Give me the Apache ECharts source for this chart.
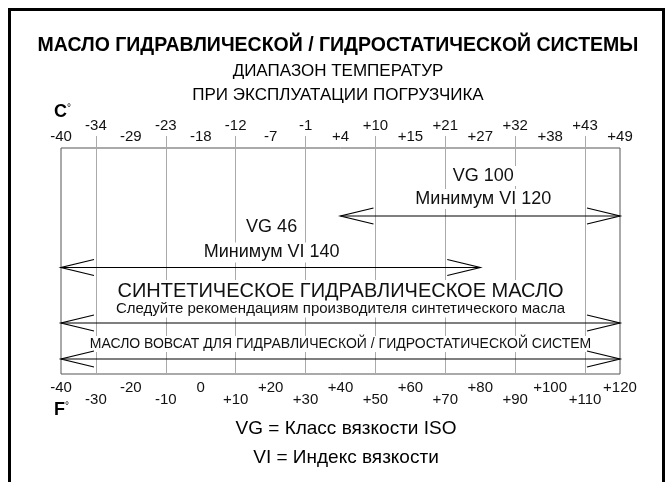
<!DOCTYPE html>
<html>
<head>
<meta charset="utf-8">
<script src="https://cdn.jsdelivr.net/npm/echarts@6/dist/echarts.min.js"></script>
<style>
  html, body { margin: 0; padding: 0; background: #fff; }
  #chart { width: 672px; height: 482px; }
</style>
</head>
<body>
<div id="chart"></div>
<script>
// шкала в °F, подписи °C сверху
const fTicks = [-40, -30, -20, -10, 0, 10, 20, 30, 40, 50, 60, 70, 80, 90, 100, 110, 120]
const fLabels = ['-40', '-30', '-20', '-10', '0', '+10', '+20', '+30', '+40', '+50', '+60', '+70', '+80', '+90', '+100', '+110', '+120']
const cLabels = ['-40', '-34', '-29', '-23', '-18', '-12', '-7', '-1', '+4', '+10', '+15', '+21', '+27', '+32', '+38', '+43', '+49']
const longTicks = [-30, -10, 10, 30, 50, 70, 90, 110]

// диапазоны масел, °F
const vg100Range = [40, 120]
const vg46Range = [-40, 80]
const synthRange = [-40, 120]
const wowcatRange = [-40, 120]

const vg100Text = ['VG 100', 'Минимум VI 120']
const vg46Text = ['VG 46', 'Минимум VI 140']
const synthText = ['СИНТЕТИЧЕСКОЕ ГИДРАВЛИЧЕСКОЕ МАСЛО', 'Следуйте рекомендациям производителя синтетического масла']
const wowcatText = ['МАСЛО ВОВСАТ ДЛЯ ГИДРАВЛИЧЕСКОЙ / ГИДРОСТАТИЧЕСКОЙ СИСТЕМ']

const FONT = '"Liberation Sans", Arial, sans-serif'
const GRID_COLOR = '#aaaaaa'

function tickLabel(labels) {
  return function(value) {
    const i = fTicks.indexOf(value)
    if (i < 0) return ''
    return (i % 2 === 0 ? '{lo|' : '{hi|') + labels[i] + '}'
  }
}

// стрелка с двумя наконечниками и подписями над ней
function arrowSeries(name, range, row, texts) {
  return {
    name: name,
    type: 'custom',
    coordinateSystem: 'cartesian2d',
    xAxisIndex: 0,
    yAxisIndex: 0,
    z: 5,
    renderItem: function(params, api) {
      const s = api.coord([api.value(0), row])
      const e = api.coord([api.value(1), row])
      const y = s[1]
      const head = 33
      const hw = 8
      const mid = (s[0] + e[0]) / 2
      const children = []
      texts.forEach(function(t) {
        children.push({
          type: 'text',
          style: {
            text: t.text,
            x: mid + (t.dx || 0),
            y: y + t.dy,
            align: 'center',
            verticalAlign: 'middle',
            font: t.font,
            fill: '#111',
            backgroundColor: '#fff',
            padding: [1, 3]
          }
        })
      })
      const ls = { stroke: '#000', lineWidth: 1.2, fill: null }
      children.push({ type: 'line', shape: { x1: s[0], y1: y, x2: e[0], y2: y }, style: ls })
      children.push({ type: 'polyline', shape: { points: [[s[0] + head, y - hw], [s[0], y], [s[0] + head, y + hw]] }, style: ls })
      children.push({ type: 'polyline', shape: { points: [[e[0] - head, y - hw], [e[0], y], [e[0] - head, y + hw]] }, style: ls })
      return { type: 'group', children: children }
    },
    encode: { x: [0, 1] },
    data: [range]
  }
}

const chart = echarts.init(document.getElementById('chart'))
const option = {
  animation: false,
  backgroundColor: '#fff',
  grid: {
    show: true,
    left: 61,
    right: 52,
    top: 148,
    bottom: 108,
    borderColor: '#555',
    borderWidth: 1,
    backgroundColor: 'transparent'
  },
  xAxis: [
    {
      type: 'value',
      position: 'bottom',
      min: -40,
      max: 120,
      interval: 10,
      axisLine: { show: false },
      axisTick: {
        show: true,
        customValues: longTicks,
        length: 13,
        lineStyle: { color: GRID_COLOR }
      },
      axisLabel: {
        margin: 6,
        formatter: tickLabel(fLabels),
        rich: {
          lo: { fontFamily: FONT, fontSize: 15, color: '#111', lineHeight: 15 },
          hi: { fontFamily: FONT, fontSize: 15, color: '#111', lineHeight: 15, padding: [25, 0, 0, 0] }
        }
      },
      splitLine: { show: true, lineStyle: { color: GRID_COLOR, width: 1 } }
    },
    {
      type: 'value',
      position: 'top',
      min: -40,
      max: 120,
      interval: 10,
      axisLine: { show: false },
      axisTick: {
        show: true,
        customValues: longTicks,
        length: 12,
        lineStyle: { color: GRID_COLOR }
      },
      axisLabel: {
        margin: 4,
        formatter: tickLabel(cLabels),
        rich: {
          lo: { fontFamily: FONT, fontSize: 15, color: '#111', lineHeight: 15 },
          hi: { fontFamily: FONT, fontSize: 15, color: '#111', lineHeight: 15, padding: [0, 0, 21, 0] }
        }
      },
      splitLine: { show: false }
    }
  ],
  yAxis: {
    type: 'value',
    min: 0,
    max: 226,
    inverse: true,
    show: false
  },
  series: [
    arrowSeries('VG 100', vg100Range, 68, [
      { text: vg100Text[0], dy: -40, dx: 3, font: '18px ' + FONT },
      { text: vg100Text[1], dy: -17, dx: 3, font: '18px ' + FONT }
    ]),
    arrowSeries('VG 46', vg46Range, 119.5, [
      { text: vg46Text[0], dy: -40, dx: 1, font: '18px ' + FONT },
      { text: vg46Text[1], dy: -15, dx: 1, font: '18px ' + FONT }
    ]),
    arrowSeries('Синтетическое', synthRange, 175, [
      { text: synthText[0], dy: -32, font: '20px ' + FONT },
      { text: synthText[1], dy: -14, font: '15px ' + FONT }
    ]),
    arrowSeries('Вовсат', wowcatRange, 211, [
      { text: wowcatText[0], dy: -15, font: '14px ' + FONT }
    ])
  ],
  graphic: [
    {
      type: 'rect',
      shape: { x: 9.5, y: 9.5, width: 654, height: 490 },
      style: { fill: null, stroke: '#000', lineWidth: 3 },
      silent: true
    },
    {
      type: 'text',
      style: { text: 'МАСЛО ГИДРАВЛИЧЕСКОЙ / ГИДРОСТАТИЧЕСКОЙ СИСТЕМЫ', x: 338, y: 46, align: 'center', verticalAlign: 'middle', font: 'bold 19.5px ' + FONT, fill: '#000' }
    },
    {
      type: 'text',
      style: { text: 'ДИАПАЗОН ТЕМПЕРАТУР', x: 338, y: 71, align: 'center', verticalAlign: 'middle', font: '17px ' + FONT, fill: '#000' }
    },
    {
      type: 'text',
      style: { text: 'ПРИ ЭКСПЛУАТАЦИИ ПОГРУЗЧИКА', x: 338, y: 95, align: 'center', verticalAlign: 'middle', font: '17px ' + FONT, fill: '#000' }
    },
    {
      type: 'text',
      style: { text: 'C', x: 54, y: 112, align: 'left', verticalAlign: 'middle', font: 'bold 18px ' + FONT, fill: '#000' }
    },
    {
      type: 'text',
      style: { text: '°', x: 67, y: 108, align: 'left', verticalAlign: 'middle', font: '10px ' + FONT, fill: '#000' }
    },
    {
      type: 'text',
      style: { text: 'F', x: 54, y: 410, align: 'left', verticalAlign: 'middle', font: 'bold 18px ' + FONT, fill: '#000' }
    },
    {
      type: 'text',
      style: { text: '°', x: 65, y: 406, align: 'left', verticalAlign: 'middle', font: '10px ' + FONT, fill: '#000' }
    },
    {
      type: 'text',
      style: { text: 'VG = Класс вязкости ISO', x: 346, y: 429, align: 'center', verticalAlign: 'middle', font: '19px ' + FONT, fill: '#000' }
    },
    {
      type: 'text',
      style: { text: 'VI = Индекс вязкости', x: 346, y: 458, align: 'center', verticalAlign: 'middle', font: '19px ' + FONT, fill: '#000' }
    }
  ]
}
chart.setOption(option)
window.onresize = function() {
  chart.resize()
}
</script>
</body>
</html>
